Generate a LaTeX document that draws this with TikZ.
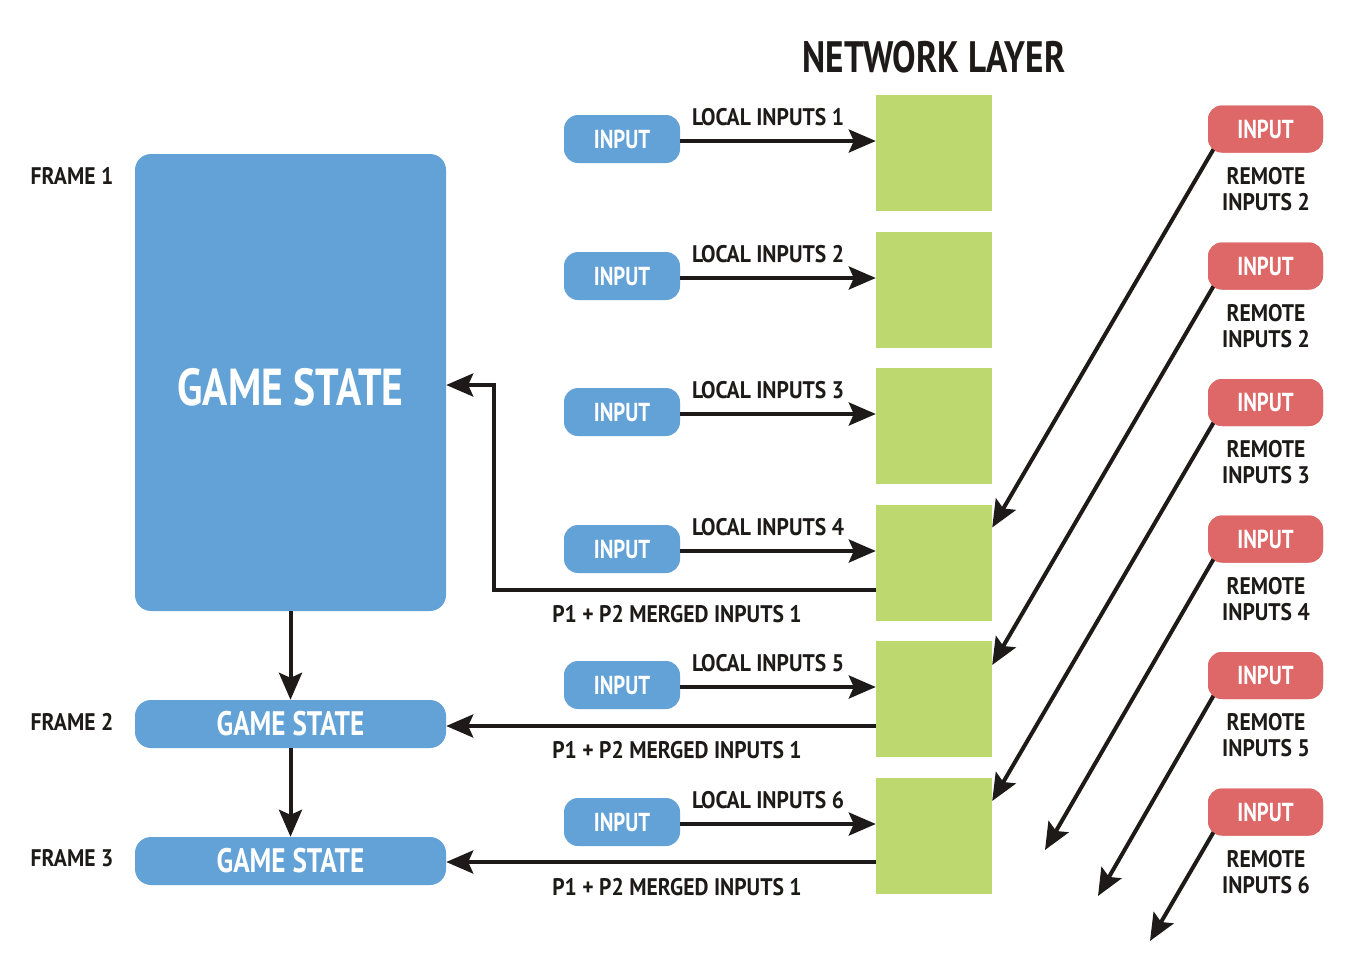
\documentclass[tikz,border=0pt]{standalone}
\usepackage{fontspec}
\setmainfont{PT Sans}[FakeStretch=0.8]
\newfontfamily\lblfont{PT Sans}[FakeStretch=0.9]
\usetikzlibrary{arrows.meta}
\definecolor{blueC}{HTML}{63A2D6}
\definecolor{greenC}{HTML}{BCD86E}
\definecolor{redC}{HTML}{DE6767}
\definecolor{textC}{HTML}{1E1A1A}
\begin{document}
\begin{tikzpicture}[x=1pt,y=-1pt,
  gbox/.style={fill=greenC,draw=none,minimum width=116pt,minimum height=116pt,inner sep=0pt},
  inbox/.style={fill=blueC,draw=none,rounded corners=14pt,minimum width=116pt,minimum height=48pt,inner sep=0pt,text=white,font=\bfseries\fontsize{26}{28}\selectfont},
  rbox/.style={fill=redC,draw=none,rounded corners=14pt,minimum width=115pt,minimum height=47pt,inner sep=0pt,text=white,font=\bfseries\fontsize{26}{28}\selectfont},
  gsbox/.style={fill=blueC,draw=none,rounded corners=16pt,minimum width=311pt,inner sep=0pt,text=white},
  lbl/.style={text=textC,font=\lblfont\bfseries\fontsize{24}{26}\selectfont,inner sep=0pt,align=center},
  arr/.style={draw=textC,line width=4pt,-{Stealth[length=27pt,width=23pt,inset=5pt]}},
]
\useasboundingbox (0,0) rectangle (1345,954);

\node[lbl,font=\bfseries\fontsize{44}{46}\selectfont] (title) at (934,57) {NETWORK LAYER};

% green network boxes
\node[gbox] (g1) at (934,153) {};
\node[gbox] (g2) at (934,290) {};
\node[gbox] (g3) at (934,426) {};
\node[gbox] (g4) at (934,562.5) {};
\node[gbox] (g5) at (934,699) {};
\node[gbox] (g6) at (934,836) {};

% game states
\node[gsbox,minimum height=457pt] (f1) at (290.5,382.5) {};
\node[text=white,font=\bfseries\fontsize{52}{54}\selectfont,inner sep=0pt] (f1t) at (290.5,387) {GAME STATE};
\node[gsbox,minimum height=48pt,font=\bfseries\fontsize{34}{36}\selectfont] (f2) at (290.5,724) {GAME STATE};
\node[gsbox,minimum height=48pt,font=\bfseries\fontsize{34}{36}\selectfont] (f3) at (290.5,861) {GAME STATE};
\node[lbl] (fl1) at (72,176) {FRAME 1};
\node[lbl] (fl2) at (72,722) {FRAME 2};
\node[lbl] (fl3) at (72,858) {FRAME 3};

% local inputs
\foreach \i/\y in {1/139,2/276,3/412,4/549,5/685,6/822}{
  \node[inbox] (i\i) at (622,\y) {INPUT};
  \draw[arr] ([yshift=-2pt]i\i.east) coordinate (s\i) -- (g\i.west |- s\i);
  \node[lbl] (ll\i) at (768,\y-22) {LOCAL INPUTS \i};
}

% frame links
\draw[arr] (f1.south) -- (f2.north);
\draw[arr] (f2.south) -- (f3.north);
\draw[arr] ([yshift=-27pt]g4.west) -- ++(-382,0) |- ([yshift=-2.5pt]f1.east);
\draw[arr] ([yshift=-27pt]g5.west) coordinate (t5) -- (f2.east |- t5);
\draw[arr] ([yshift=-26pt]g6.west) coordinate (t6) -- (f3.east |- t6);
\node[lbl] (m1) at (677,614) {P1 + P2 MERGED INPUTS 1};
\node[lbl] (m2) at (677,750) {P1 + P2 MERGED INPUTS 1};
\node[lbl] (m3) at (677,887) {P1 + P2 MERGED INPUTS 1};

% remote inputs
\coordinate (e4) at (1045,850);
\coordinate (e5) at (1098,896);
\coordinate (e6) at (1150,941);
\foreach \i/\y in {1/129,2/266,3/402.5,4/539,5/675.5,6/812}{
  \node[rbox] (r\i) at (1265.5,\y) {};
}
\draw[arr] ([xshift=6pt,yshift=4pt]r1.south west) -- ([yshift=35pt]g4.east);
\draw[arr] ([xshift=6pt,yshift=4pt]r2.south west) -- ([yshift=34pt]g5.east);
\draw[arr] ([xshift=6pt,yshift=4pt]r3.south west) -- ([yshift=35pt]g6.east);
\draw[arr] ([xshift=6pt,yshift=4pt]r4.south west) -- (e4);
\draw[arr] ([xshift=6pt,yshift=4pt]r5.south west) -- (e5);
\draw[arr] ([xshift=6pt,yshift=4pt]r6.south west) -- (e6);
\foreach \i/\y/\n in {1/129/2,2/266/2,3/402.5/3,4/539/4,5/675.5/5,6/812/6}{
  \node[rbox] (rr\i) at (1265.5,\y) {INPUT};
  \node[lbl] (rl\i) at (1266,\y+60) {REMOTE\\INPUTS \n};
}
\end{tikzpicture}
\end{document}
